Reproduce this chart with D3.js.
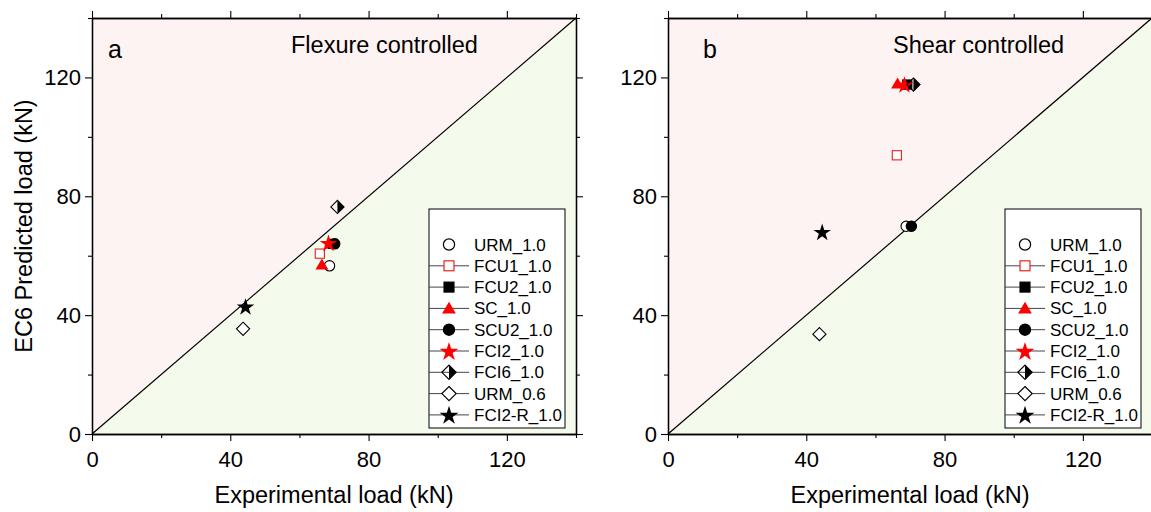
<!DOCTYPE html>
<html>
<head>
<meta charset="utf-8">
<script src="https://cdn.jsdelivr.net/npm/d3@7"></script>
<style>
  body { margin: 0; background: #fff; }
  svg text { font-family: "Liberation Sans", Arial, sans-serif; fill: #000; }
</style>
</head>
<body>
<div id="chart"></div>
<script>
// specimens, legend order
const series = ["URM_1.0", "FCU1_1.0", "FCU2_1.0", "SC_1.0", "SCU2_1.0", "FCI2_1.0", "FCI6_1.0", "URM_0.6", "FCI2-R_1.0"];

// panel a: flexure controlled
const expA = [68.7, 65.9, 69.6, 66.5, 70.2, 68.4, 71.0, 43.7, 44.4];
const predA = [56.6, 60.7, 64.0, 57.0, 64.0, 64.3, 76.4, 35.4, 42.9];

// panel b: shear controlled
const expB = [68.9, 66.2, 69.2, 66.4, 70.4, 68.4, 71.0, 43.8, 44.6];
const predB = [69.9, 93.8, 117.6, 117.9, 69.9, 117.6, 117.6, 33.6, 68.0];

const majorTicks = [0, 40, 80, 120];
const minorTicks = [20, 60, 100, 140];

const width = 1151, height = 512;
const plotTop = 18, plotBottom = 434, plotW = 484;

// marker look per series
const styles = [
  { shape: "circle", fill: "#fff", stroke: "#000", line: false },
  { shape: "square", fill: "#fff", stroke: "#e8221f", line: true },
  { shape: "square", fill: "#000", stroke: "#000", line: true },
  { shape: "triangle", fill: "#f00", stroke: "#f00", line: true },
  { shape: "circle", fill: "#000", stroke: "#000", line: true },
  { shape: "star", fill: "#f00", stroke: "#f00", line: true },
  { shape: "halfdiamond", fill: "#000", stroke: "#000", line: true },
  { shape: "diamond", fill: "#fff", stroke: "#000", line: true },
  { shape: "star", fill: "#000", stroke: "#000", line: true },
];

const svg = d3.select("#chart").append("svg")
  .attr("width", width).attr("height", height);

function drawMarker(g, st, x, y, scale) {
  const k = scale || 1;
  const m = g.append("g").attr("transform", `translate(${x},${y}) scale(${k})`);
  if (st.shape === "circle") {
    m.append("circle").attr("r", 5.2).attr("fill", st.fill).attr("stroke", st.stroke).attr("stroke-width", 1.1);
  } else if (st.shape === "square") {
    m.append("rect").attr("x", -4.6).attr("y", -4.6).attr("width", 9.2).attr("height", 9.2)
      .attr("fill", st.fill).attr("stroke", st.stroke).attr("stroke-width", 1.1);
  } else if (st.shape === "triangle") {
    m.append("path").attr("d", "M0,-6.2L6.4,4.8L-6.4,4.8Z").attr("fill", st.fill);
  } else if (st.shape === "star") {
    m.append("path").attr("d", d3.symbol(d3.symbolStar, 95)()).attr("fill", st.fill)
      .attr("transform", "translate(0,0.8)");
  } else if (st.shape === "diamond") {
    m.append("path").attr("d", "M0,-6.6L6.6,0L0,6.6L-6.6,0Z")
      .attr("fill", "#fff").attr("stroke", "#000").attr("stroke-width", 1.1);
  } else if (st.shape === "halfdiamond") {
    m.append("path").attr("d", "M0,-6.6L6.6,0L0,6.6Z").attr("fill", "#000");
    m.append("path").attr("d", "M0,-6.6L6.6,0L0,6.6L-6.6,0Z")
      .attr("fill", "none").attr("stroke", "#000").attr("stroke-width", 1.1);
  }
}

function panel(left, xs, ys, letter, letterX, title, titleX, showYLabel) {
  const x = d3.scaleLinear().domain([0, 140]).range([left, left + plotW]);
  const y = d3.scaleLinear().domain([0, 140]).range([plotBottom, plotTop]);
  const g = svg.append("g");

  // regions above / below the 1:1 line
  g.append("path")
    .attr("d", `M${x(0)},${y(0)}L${x(0)},${y(140)}L${x(140)},${y(140)}Z`)
    .attr("fill", "#fdf3f2");
  g.append("path")
    .attr("d", `M${x(0)},${y(0)}L${x(140)},${y(140)}L${x(140)},${y(0)}Z`)
    .attr("fill", "#f5fbec");
  g.append("line")
    .attr("x1", x(0)).attr("y1", y(0)).attr("x2", x(140)).attr("y2", y(140))
    .attr("stroke", "#000").attr("stroke-width", 1.2);

  // axes on all four sides
  const axisStyle = (sel) => {
    sel.select(".domain").attr("stroke", "#000").attr("stroke-width", 1.3);
    sel.selectAll(".tick line").attr("stroke", "#000").attr("stroke-width", 1.1);
    sel.selectAll("text").style("font-size", "22px").attr("font-family", "Liberation Sans, Arial");
  };
  const addAxis = (axisFn, scale, transform, labels, padding) => {
    g.append("g").attr("transform", transform)
      .call(axisFn(scale).tickValues(minorTicks).tickSize(4).tickFormat("").tickSizeOuter(0))
      .call(axisStyle);
    g.append("g").attr("transform", transform)
      .call(axisFn(scale).tickValues(majorTicks).tickSize(7).tickPadding(padding)
        .tickFormat(labels ? d3.format("d") : "").tickSizeOuter(0))
      .call(axisStyle);
  };
  addAxis(d3.axisBottom, x, `translate(0,${plotBottom})`, true, 10);
  addAxis(d3.axisTop, x, `translate(0,${plotTop})`, false, 0);
  addAxis(d3.axisLeft, y, `translate(${left},0)`, true, 4);
  addAxis(d3.axisRight, y, `translate(${left + plotW},0)`, false, 0);

  // data points
  series.forEach((s, i) => drawMarker(g, styles[i], x(xs[i]), y(ys[i])));

  // annotations
  g.append("text").attr("x", left + letterX).attr("y", 58).style("font-size", "25px").text(letter);
  g.append("text").attr("x", left + titleX).attr("y", 53).style("font-size", "23.5px").text(title);

  g.append("text")
    .attr("x", left + plotW / 2).attr("y", 503)
    .attr("text-anchor", "middle").style("font-size", "23.5px")
    .text("Experimental load (kN)");
  if (showYLabel) {
    g.append("text")
      .attr("transform", `translate(32,${(plotTop + plotBottom) / 2}) rotate(-90)`)
      .attr("text-anchor", "middle").style("font-size", "23.5px")
      .text("EC6 Predicted load (kN)");
  }

  // legend
  const lx = left + 337, ly = 209, lw = 136, lh = 219;
  const lg = g.append("g");
  lg.append("rect").attr("x", lx).attr("y", ly).attr("width", lw).attr("height", lh)
    .attr("fill", "#fff").attr("stroke", "#000").attr("stroke-width", 1);
  series.forEach((s, i) => {
    const ry = ly + 35.5 + i * 21.3;
    if (styles[i].line) {
      lg.append("line").attr("x1", lx).attr("x2", lx + 40).attr("y1", ry).attr("y2", ry)
        .attr("stroke", "#444").attr("stroke-width", 1);
    }
    drawMarker(lg, styles[i], lx + 20, ry, 1.08);
    lg.append("text").attr("x", lx + 45).attr("y", ry + 6).style("font-size", "17px").text(s);
  });
}

panel(92, expA, predA, "a", 16, "Flexure controlled", 199, true);
panel(668, expB, predB, "b", 35, "Shear controlled", 225, false);
</script>
</body>
</html>
